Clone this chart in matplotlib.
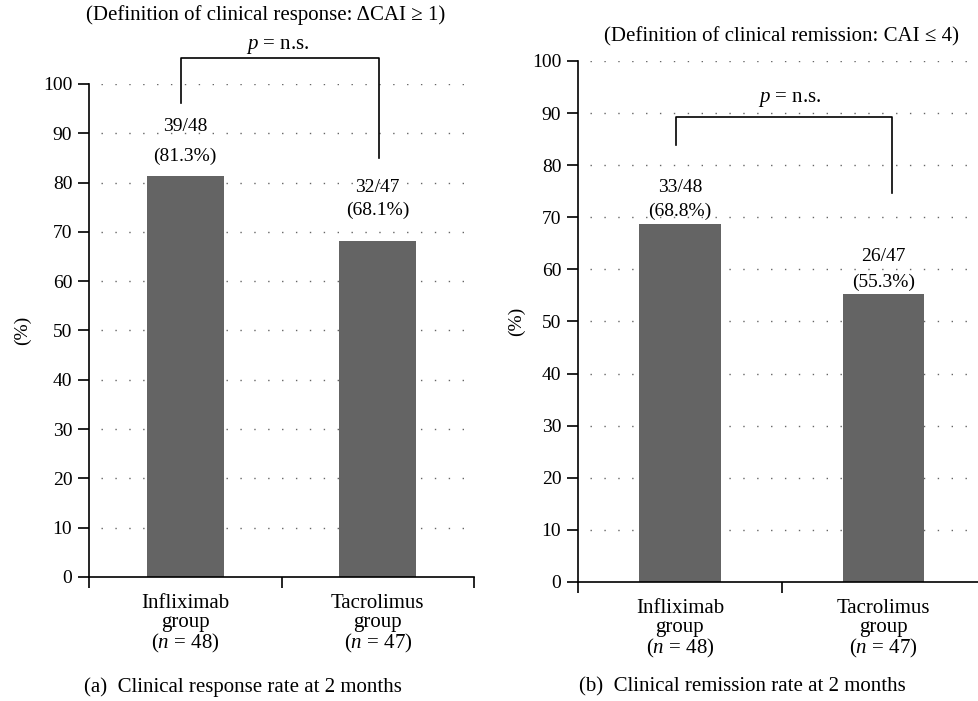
import matplotlib
matplotlib.use("Agg")
import matplotlib.pyplot as plt

plt.rcParams['font.family'] = ['Liberation Serif', 'DejaVu Serif']
plt.rcParams['mathtext.fontset'] = 'custom'
plt.rcParams['mathtext.rm'] = 'Liberation Serif'
plt.rcParams['mathtext.it'] = 'Liberation Serif:italic'
plt.rcParams['font.size'] = 14

# data
groups = ["Infliximab\ngroup\n($n$ = 48)", "Tacrolimus\ngroup\n($n$ = 47)"]
response_rate = [81.3, 68.1]
response_counts = ["39/48", "32/47"]
remission_rate = [68.8, 55.3]
remission_counts = ["33/48", "26/47"]

bar_color = "#646464"

fig = plt.figure(figsize=(9.79, 7.01), dpi=100)
ax1 = fig.add_axes([0.0909, 0.1769, 0.3933, 0.7033])
ax2 = fig.add_axes([0.5904, 0.1698, 0.4160, 0.7432])


def style_axis(ax):
    ax.set_ylim(0, 100)
    ax.set_xlim(-0.5, 1.5)
    ax.set_yticks(range(0, 101, 10))
    ax.set_xticks([0, 1])
    ax.set_xticklabels(groups, linespacing=1.0, fontsize=15)
    ax.set_xticks([-0.5, 0.5, 1.5], minor=True)
    ax.tick_params(axis='x', which='major', length=0, pad=12)
    ax.tick_params(axis='x', which='minor', length=8, width=1.2, direction='out')
    ax.tick_params(axis='y', length=8, width=1.2, direction='out', pad=4)
    for s in ['top', 'right']:
        ax.spines[s].set_visible(False)
    for s in ['left', 'bottom']:
        ax.spines[s].set_linewidth(1.2)
    for y in range(10, 101, 10):
        ax.axhline(y, xmin=0.03, xmax=1, color='#666666', lw=1,
                   linestyle=(0, (1, 9)), zorder=0)
    ax.set_ylabel("(%)", labelpad=10)


def bracket(ax, x0, x1, y_top, y_left, y_right):
    ax.plot([x0, x0, x1, x1], [y_left, y_top, y_top, y_right],
            color='black', lw=1.2, clip_on=False)


# (a) clinical response
style_axis(ax1)
x = range(len(response_rate))
ax1.bar(x, response_rate, width=0.4, color=bar_color, zorder=2)
ax1.text(0, response_rate[0] + 10, response_counts[0], ha='center', va='center')
ax1.text(0, response_rate[0] + 4, "(%.1f%%)" % response_rate[0], ha='center', va='center')
ax1.text(1, response_rate[1] + 11, response_counts[1], ha='center', va='center')
ax1.text(1, response_rate[1] + 6.3, "(%.1f%%)" % response_rate[1], ha='center', va='center')
bracket(ax1, -0.02, 1.005, 105.3, 96.1, 85.0)
ax1.text(0.478, 107.6, "$p$ = n.s.", ha='center', va='center', fontsize=15)
ax1.text(0.42, 114.0, "(Definition of clinical response: ΔCAI ≥ 1)",
         ha='center', va='center', fontsize=15, clip_on=False)
ax1.yaxis.set_label_coords(-0.15, 0.5)

# (b) clinical remission
style_axis(ax2)
ax2.bar(x, remission_rate, width=0.4, color=bar_color, zorder=2)
ax2.text(0, remission_rate[0] + 7.0, remission_counts[0], ha='center', va='center')
ax2.text(0, remission_rate[0] + 2.3, "(%.1f%%)" % remission_rate[0], ha='center', va='center')
ax2.text(1, remission_rate[1] + 7.1, remission_counts[1], ha='center', va='center')
ax2.text(1, remission_rate[1] + 2.3, "(%.1f%%)" % remission_rate[1], ha='center', va='center')
bracket(ax2, -0.02, 1.04, 89.25, 83.9, 74.7)
ax2.text(0.54, 92.6, "$p$ = n.s.", ha='center', va='center', fontsize=15)
ax2.text(0.5, 104.6, "(Definition of clinical remission: CAI ≤ 4)",
         ha='center', va='center', fontsize=15, clip_on=False)
ax2.yaxis.set_label_coords(-0.13, 0.5)

fig.text(243 / 979, 1 - 687 / 701, "(a)  Clinical response rate at 2 months",
         ha='center', va='center', fontsize=15)
fig.text(742 / 979, 1 - 687 / 701, "(b)  Clinical remission rate at 2 months",
         ha='center', va='center', fontsize=15)

fig.savefig("out.png", dpi=100)
